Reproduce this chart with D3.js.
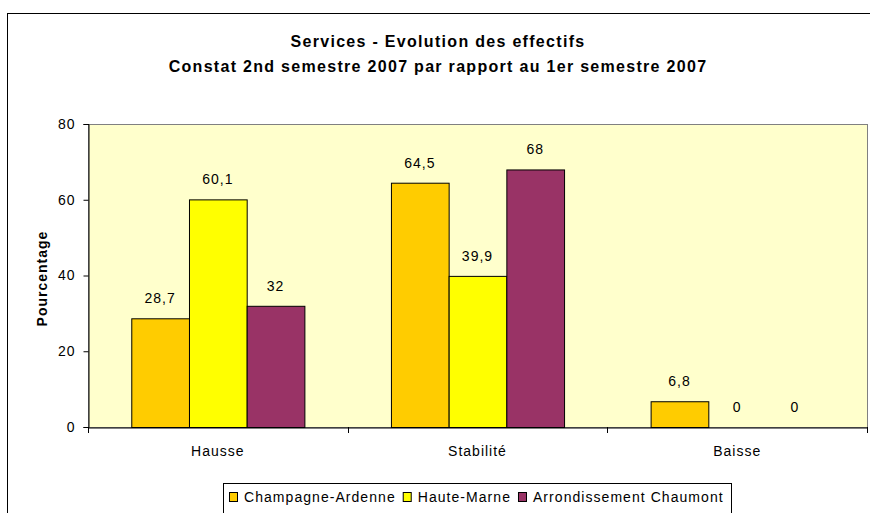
<!DOCTYPE html>
<html>
<head>
<meta charset="utf-8">
<script src="https://cdn.jsdelivr.net/npm/d3@7"></script>
<style>
  body { margin: 0; background: #fff; }
  svg { display: block; font-family: "Liberation Sans", Arial, sans-serif; }
  svg text { letter-spacing: 1px; }
</style>
</head>
<body>
<div id="chart"></div>
<script>
// Data
const categories = ["Hausse", "Stabilité", "Baisse"];
const seriesNames = ["Champagne-Ardenne", "Haute-Marne", "Arrondissement Chaumont"];
const champagne = [28.7, 64.5, 6.8];
const hauteMarne = [60.1, 39.9, 0];
const chaumont = [32, 68, 0];
const yTicks = [0, 20, 40, 60, 80];
const titleLines = ["Services - Evolution des effectifs", "Constat 2nd semestre 2007 par rapport au 1er semestre 2007"];

const colors = ["#FFCC00", "#FFFF00", "#993366"];
const seriesValues = [champagne, hauteMarne, chaumont];

const W = 870, H = 513;
const plot = { left: 88, right: 867, top: 124, bottom: 427 };
const fontFam = "Liberation Sans, Arial, sans-serif";

const svg = d3.select("#chart").append("svg")
    .attr("width", W)
    .attr("height", H);

// outer chart frame (cut off at right/bottom like the reference)
svg.append("rect")
    .attr("x", 7.5).attr("y", 13.5)
    .attr("width", W).attr("height", H)
    .attr("fill", "#fff")
    .attr("stroke", "#000")
    .attr("stroke-width", 1);

// titles
titleLines.forEach((t, i) => {
    svg.append("text")
        .attr("x", 438)
        .attr("y", 47 + i * 25)
        .attr("text-anchor", "middle")
        .style("font-size", "16px")
        .style("font-weight", "bold")
        .style("letter-spacing", "1.3px")
        .text(t);
});

// scales
const x0 = d3.scaleBand()
    .domain(categories)
    .range([plot.left, plot.right])
    .paddingInner(0)
    .paddingOuter(0);

const x1 = d3.scaleBand()
    .domain(seriesNames)
    .range([0, x0.bandwidth()])
    .paddingInner(0)
    .paddingOuter(0.75);

const y = d3.scaleLinear()
    .domain([0, 80])
    .range([plot.bottom, plot.top]);

// plot area
svg.append("rect")
    .attr("x", plot.left + 0.5).attr("y", plot.top + 0.5)
    .attr("width", plot.right - plot.left).attr("height", plot.bottom - plot.top)
    .attr("fill", "#FFFFCC")
    .attr("stroke", "#808080");

// bars
const rows = categories.map((c, i) => ({
    cat: c,
    vals: seriesNames.map((s, j) => ({ series: s, value: seriesValues[j][i], color: colors[j] }))
}));

const groups = svg.selectAll("g.cat")
    .data(rows)
    .enter()
    .append("g")
    .attr("class", "cat")
    .attr("transform", d => `translate(${x0(d.cat)},0)`);

groups.selectAll("rect")
    .data(d => d.vals.filter(v => v.value > 0))
    .enter()
    .append("rect")
    .attr("x", d => x1(d.series) + 0.5)
    .attr("y", d => y(d.value) + 0.5)
    .attr("width", x1.bandwidth())
    .attr("height", d => y(0) - y(d.value))
    .attr("fill", d => d.color)
    .attr("stroke", "#000")
    .attr("stroke-width", 1);

// value labels
groups.selectAll("text.val")
    .data(d => d.vals)
    .enter()
    .append("text")
    .attr("class", "val")
    .attr("x", d => x1(d.series) + x1.bandwidth() / 2)
    .attr("y", d => y(d.value) - 15)
    .attr("text-anchor", "middle")
    .style("font-size", "14px")
    .text(d => String(d.value).replace(".", ","));

// y axis
const yAxis = svg.append("g")
    .attr("transform", `translate(${plot.left + 0.5},0)`)
    .call(d3.axisLeft(y).tickValues(yTicks).tickSize(5).tickPadding(8));
yAxis.select(".domain").attr("stroke", "#000");
yAxis.selectAll("text").style("font-size", "14px").style("font-family", fontFam);

// x axis
const xAxis = svg.append("g")
    .attr("transform", `translate(0,${plot.bottom + 0.5})`)
    .call(d3.axisBottom(x0).tickSize(0).tickPadding(19));
xAxis.select(".domain").attr("stroke", "#000");
xAxis.selectAll("text").style("font-size", "14px").style("font-family", fontFam);

// x tick marks at category boundaries
const bounds = categories.map(c => x0(c)).concat([plot.right]);
svg.append("g").selectAll("line")
    .data(bounds)
    .enter()
    .append("line")
    .attr("x1", d => Math.round(d) + 0.5).attr("x2", d => Math.round(d) + 0.5)
    .attr("y1", plot.bottom).attr("y2", plot.bottom + 6)
    .attr("stroke", "#000");

// y axis title
svg.append("text")
    .attr("transform", `translate(47,${(plot.top + plot.bottom) / 2 + 3}) rotate(-90)`)
    .attr("text-anchor", "middle")
    .style("font-size", "14px")
    .style("font-weight", "bold")
    .text("Pourcentage");

// legend
const legend = svg.append("g");
legend.append("rect")
    .attr("x", 223.5).attr("y", 483.5)
    .attr("width", 508).attr("height", 40)
    .attr("fill", "#fff")
    .attr("stroke", "#000");

let lx = 229;
seriesNames.forEach((s, i) => {
    legend.append("rect")
        .attr("x", lx + 0.5).attr("y", 492.5)
        .attr("width", 8).attr("height", 9)
        .attr("fill", colors[i])
        .attr("stroke", "#000");
    const t = legend.append("text")
        .attr("x", lx + 15)
        .attr("y", 502)
        .style("font-size", "14px")
        .style("letter-spacing", "1.05px")
        .text(s);
    lx += 15 + t.node().getComputedTextLength() + 7;
});
</script>
</body>
</html>
